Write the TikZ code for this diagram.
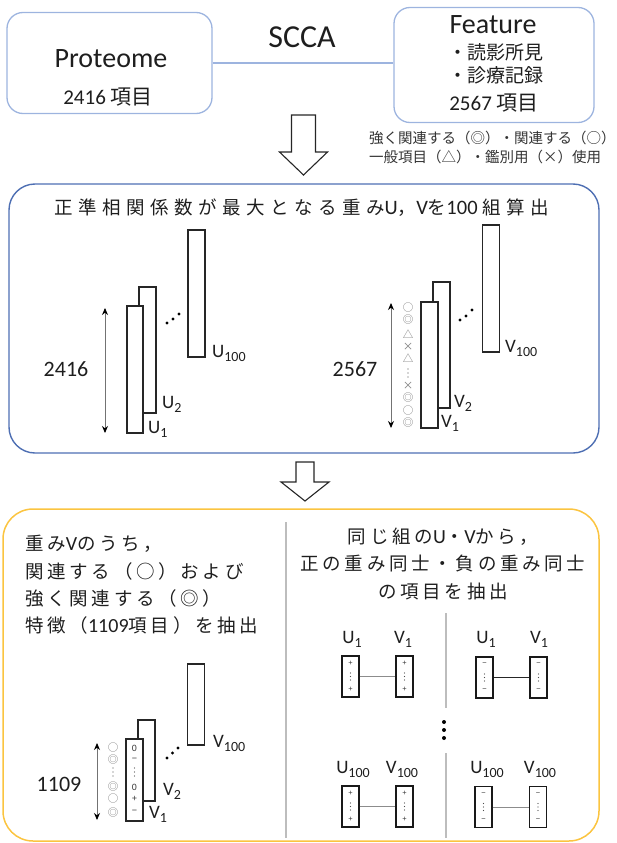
\documentclass[tikz,border=0pt]{standalone}
\usepackage{fontspec}
\setmainfont{Carlito}
\newfontfamily\jp{Noto Sans CJK JP}
\newfontfamily\jps[LetterSpace=20]{Noto Sans CJK JP}
\newfontfamily\jpt[LetterSpace=30]{Noto Sans CJK JP}
\newfontfamily\dv{Liberation Sans}
\usetikzlibrary{arrows.meta}
\definecolor{lblue}{HTML}{9DB4DF}
\definecolor{mblue}{HTML}{4E6FB3}
\definecolor{yel}{HTML}{FBC440}
\definecolor{txt}{HTML}{1E1E1E}
\definecolor{lgray}{HTML}{BDBDBD}
\definecolor{sgray}{HTML}{7A7A7A}
\newcommand{\fsz}[1]{\fontsize{#1}{#1}\selectfont}
\newcommand{\UVlab}[2]{\fsz{19}#1\fsz{14}\raisebox{-4.5pt}{#2}}
\begin{document}
\begin{tikzpicture}[x=1pt,y=-1pt,
  every node/.style={text=txt},
  bluebox/.style={draw=lblue,line width=1.3,rounded corners=16,inner sep=0},
  midbox/.style={draw=mblue,line width=1.4,rounded corners=26,inner sep=0},
  yelbox/.style={draw=yel,line width=1.5,rounded corners=30,inner sep=0},
  bar/.style={draw=black!85,line width=1.6,fill=white,inner sep=0,minimum width=17},
  minibox/.style={draw=black!90,line width=1.4,fill=white,inner sep=0,minimum width=17,minimum height=41},
  lab/.style={anchor=base west,inner sep=0},
  clab/.style={anchor=base,inner sep=0},
  harrow/.style={draw=black!85,line width=1.1,fill=white,line join=miter},
  dbl/.style={draw=black!55,line width=0.9,arrows={Stealth[length=7pt,width=6pt,color=black]-Stealth[length=7pt,width=6pt,color=black]}},
  sym/.style={inner sep=0,text=sgray,font=\jp\fsz{10.5}},
  inn/.style={inner sep=0,text=black!80,font=\dv\fsz{9}},
  dot/.style={fill=black,draw=none,circle,inner sep=0,minimum size=3.2},
  sdot/.style={fill=black!70,draw=none,circle,inner sep=0,minimum size=1.4},
  divider/.style={draw=lgray,line width=2.2},
  sdiv/.style={draw=lgray,line width=1.2}
]
\useasboundingbox (0,0) rectangle (616,843);

% ---------- top ----------
\node[bluebox,minimum width=205,minimum height=101] (prot) at (109.5,63) {};
\node (protT) at (111,59) {\fsz{28}Proteome};
\node (protN) at (108,97) {\fsz{21}2416 {\jp 項目}};
\node[bluebox,minimum width=200,minimum height=115] (feat) at (494,65) {};
\node (featT) at (493,25) {\fsz{28}Feature};
\node (feat1) at (496,52) {\jp\fsz{19}・読影所見};
\node (feat2) at (496,75) {\jp\fsz{19}・診療記録};
\node (featN) at (494,103) {\fsz{21}2567 {\jp 項目}};
\draw[draw=lblue,line width=1.3] (prot.east) -- (prot.east -| feat.west);
\node (scca) at (302,37) {\fsz{32}SCCA};
\node[anchor=west,inner sep=0] (note1) at (369,138) {\jp\fsz{14.5}\color{black!80}強く関連する（◎）・関連する（○）};
\node[anchor=west,inner sep=0] (note2) at (369,157) {\jp\fsz{14.5}\color{black!80}一般項目（△）・鑑別用（×）使用};
\draw[harrow] (291.5,115) -- (315.5,115) -- (315.5,152) -- (327.5,152) -- (303.5,175) -- (279.5,152) -- (291.5,152) -- cycle;

% ---------- middle ----------
\node[midbox,minimum width=590,minimum height=269] (mid) at (304,318.5) {};
\node (title) at (301.5,208) {\jpt\fsz{18.5}正準相関係数が最大となる重み{\rmfamily\fsz{20.5}U}，{\rmfamily\fsz{20.5}V}を{\rmfamily\fsz{20.5}100 }組算出};

\node[bar,minimum height=127] (U100) at (196.5,293.5) {};
\node[bar,minimum height=126] (U2) at (147.5,350) {};
\node[bar,minimum height=127,minimum width=16.5] (U1) at (135,369.5) {};
\node[lab] (lU100) at (212,357) {\UVlab{U}{100}};
\node[lab] (lU2) at (162,408) {\UVlab{U}{2}};
\node[lab] (lU1) at (148,433) {\UVlab{U}{1}};
\node[dot] (ud1) at (167,323) {};
\node[dot] (ud2) at (173,319) {};
\node[dot] (ud3) at (179,314) {};
\coordinate (ua1) at (105,308);
\coordinate (ua2) at (105,433);
\draw[dbl] (ua1) -- (ua2);
\node (n2416) at (66,369) {\fsz{22}2416};

\node[bar,minimum height=127] (V100) at (491,288.5) {};
\node[bar,minimum height=126] (V2) at (441.5,345) {};
\node[bar,minimum height=126] (V1) at (429.5,365) {};
\node[lab] (lV100) at (505,352) {\UVlab{V}{100}};
\node[lab] (lV2) at (454,407) {\UVlab{V}{2}};
\node[lab] (lV1) at (441,427) {\UVlab{V}{1}};
\node[dot] (vd1) at (460,320) {};
\node[dot] (vd2) at (466,316) {};
\node[dot] (vd3) at (472,310) {};
\coordinate (va1) at (391,303);
\coordinate (va2) at (391,428);
\draw[dbl] (va1) -- (va2);
\node (n2567) at (355,369) {\fsz{22}2567};
\node[sym] (s1) at (408,308) {○};
\node[sym] (s2) at (408,320) {◎};
\node[sym] (s3) at (408,334) {△};
\node[sym] (s4) at (408,347) {×};
\node[sym] (s5) at (408,358) {△};
\node[sdot] (s6a) at (408,369) {};
\node[sdot] (s6b) at (408,373) {};
\node[sdot] (s6c) at (408,377) {};
\node[sym] (s7) at (408,386) {×};
\node[sym] (s8) at (408,398) {◎};
\node[sym] (s9) at (408,411) {○};
\node[sym] (s10) at (408,423) {◎};

\draw[harrow] (296,462) -- (314,462) -- (314,482) -- (329,482) -- (305,501) -- (281,482) -- (296,482) -- cycle;

% ---------- bottom ----------
\node[yelbox,minimum width=596,minimum height=332] (bot) at (301,675) {};
\coordinate (dv1) at (286,522);
\coordinate (dv2) at (286,838);
\draw[divider] (dv1) -- (dv2);

\node[anchor=west,inner sep=0] (bl1) at (25,544) {\jps\fsz{18.5}重み{\rmfamily\fsz{20}V}のうち，};
\node[anchor=west,inner sep=0] (bl2) at (25,571) {\jps\fsz{18.5}関連する（○）および};
\node[anchor=west,inner sep=0] (bl3) at (25,598) {\jps\fsz{18.5}強く関連する（◎）};
\node[anchor=west,inner sep=0] (bl4) at (25,625) {\jps\fsz{18.5}特徴（{\rmfamily\fsz{20}1109}項目）を抽出};

\node[bar,minimum height=81] (bV100) at (196,704.5) {};
\node[bar,minimum height=81] (bV2) at (146.5,760.5) {};
\node[bar,minimum height=82] (bV1) at (134.5,780) {};
\node[lab] (lbV100) at (213,747) {\UVlab{V}{100}};
\node[lab] (lbV2) at (163,795) {\UVlab{V}{2}};
\node[lab] (lbV1) at (149,818) {\UVlab{V}{1}};
\node[dot] (bd1) at (167,758) {};
\node[dot] (bd2) at (172.5,753) {};
\node[dot] (bd3) at (178,748) {};
\coordinate (ba1) at (97,743);
\coordinate (ba2) at (97,820);
\draw[dbl] (ba1) -- (ba2);
\node (n1109) at (59,784) {\fsz{22}1109};
\node[sym] (t1) at (113,748) {○};
\node[sym] (t2) at (113,760) {◎};
\node[sdot] (t3a) at (113,768) {};
\node[sdot] (t3b) at (113,772) {};
\node[sdot] (t3c) at (113,776) {};
\node[sym] (t4) at (113,787) {◎};
\node[sym] (t5) at (113,799) {○};
\node[sym] (t6) at (113,812) {◎};
\node[inn] (w1) at (134.5,748) {0};
\node[inn] (w2) at (134.5,760) {−};
\node[sdot] (w3a) at (134.5,768) {};
\node[sdot] (w3b) at (134.5,772) {};
\node[sdot] (w3c) at (134.5,776) {};
\node[inn] (w4) at (134.5,787) {0};
\node[inn] (w5) at (134.5,799) {+};
\node[inn] (w6) at (134.5,812) {−};

\node (br1) at (443,537) {\jps\fsz{18.5}同じ組の{\rmfamily\fsz{20}U}・{\rmfamily\fsz{20}V}から，};
\node (br2) at (443,564) {\jps\fsz{18.5}正の重み同士・負の重み同士};
\node (br3) at (443,591) {\jps\fsz{18.5}の項目を抽出};

\coordinate (sd1) at (446,613);
\coordinate (sd2) at (446,708);
\coordinate (sd3) at (446,753);
\coordinate (sd4) at (446,838);
\draw[sdiv] (sd1) -- (sd2);
\draw[sdiv] (sd3) -- (sd4);
\node[dot,minimum size=4] (md1) at (444,722) {};
\node[dot,minimum size=4] (md2) at (444,730) {};
\node[dot,minimum size=4] (md3) at (444,738) {};

% pair TL
\node[minibox] (pU1) at (350.5,676.5) {};
\node[minibox] (pV1) at (404.5,676.5) {};
\draw[draw=black!45,line width=1] (pU1) -- (pV1);
\node[clab] (lpU1) at (352,643) {\UVlab{U}{1}};
\node[clab] (lpV1) at (403,643) {\UVlab{V}{1}};
% pair TR
\node[minibox] (nU1) at (484.5,677.5) {};
\node[minibox] (nV1) at (538.5,677.5) {};
\draw[draw=black!85,line width=0.9] (nU1) -- (nV1);
\node[clab] (lnU1) at (486,643) {\UVlab{U}{1}};
\node[clab] (lnV1) at (539,643) {\UVlab{V}{1}};
% pair BL
\node[minibox] (pU100) at (350.5,806.5) {};
\node[minibox] (pV100) at (404.5,806.5) {};
\draw[draw=black!45,line width=1] (pU100) -- (pV100);
\node[clab] (lpU100) at (353,773) {\UVlab{U}{100}};
\node[clab] (lpV100) at (402,773) {\UVlab{V}{100}};
% pair BR
\node[minibox] (nU100) at (483.5,807) {};
\node[minibox] (nV100) at (538,807) {};
\draw[draw=black!45,line width=1] (nU100) -- (nV100);
\node[clab] (lnU100) at (487,773) {\UVlab{U}{100}};
\node[clab] (lnV100) at (540,773) {\UVlab{V}{100}};

% signs inside mini boxes
\foreach \b/\s in {pU1/+,pV1/+,pU100/+,pV100/+,nU1/−,nV1/−,nU100/−,nV100/−}{
  \node[inn,font=\dv\fsz{7.5}] (\b-t) at ([yshift=-13]\b.center) {\s};
  \node[inn,font=\dv\fsz{7.5}] (\b-b) at ([yshift=13]\b.center) {\s};
  \node[sdot,minimum size=1.2] (\b-d1) at ([yshift=-3.5]\b.center) {};
  \node[sdot,minimum size=1.2] (\b-d2) at (\b.center) {};
  \node[sdot,minimum size=1.2] (\b-d3) at ([yshift=3.5]\b.center) {};
}
\end{tikzpicture}
\end{document}
